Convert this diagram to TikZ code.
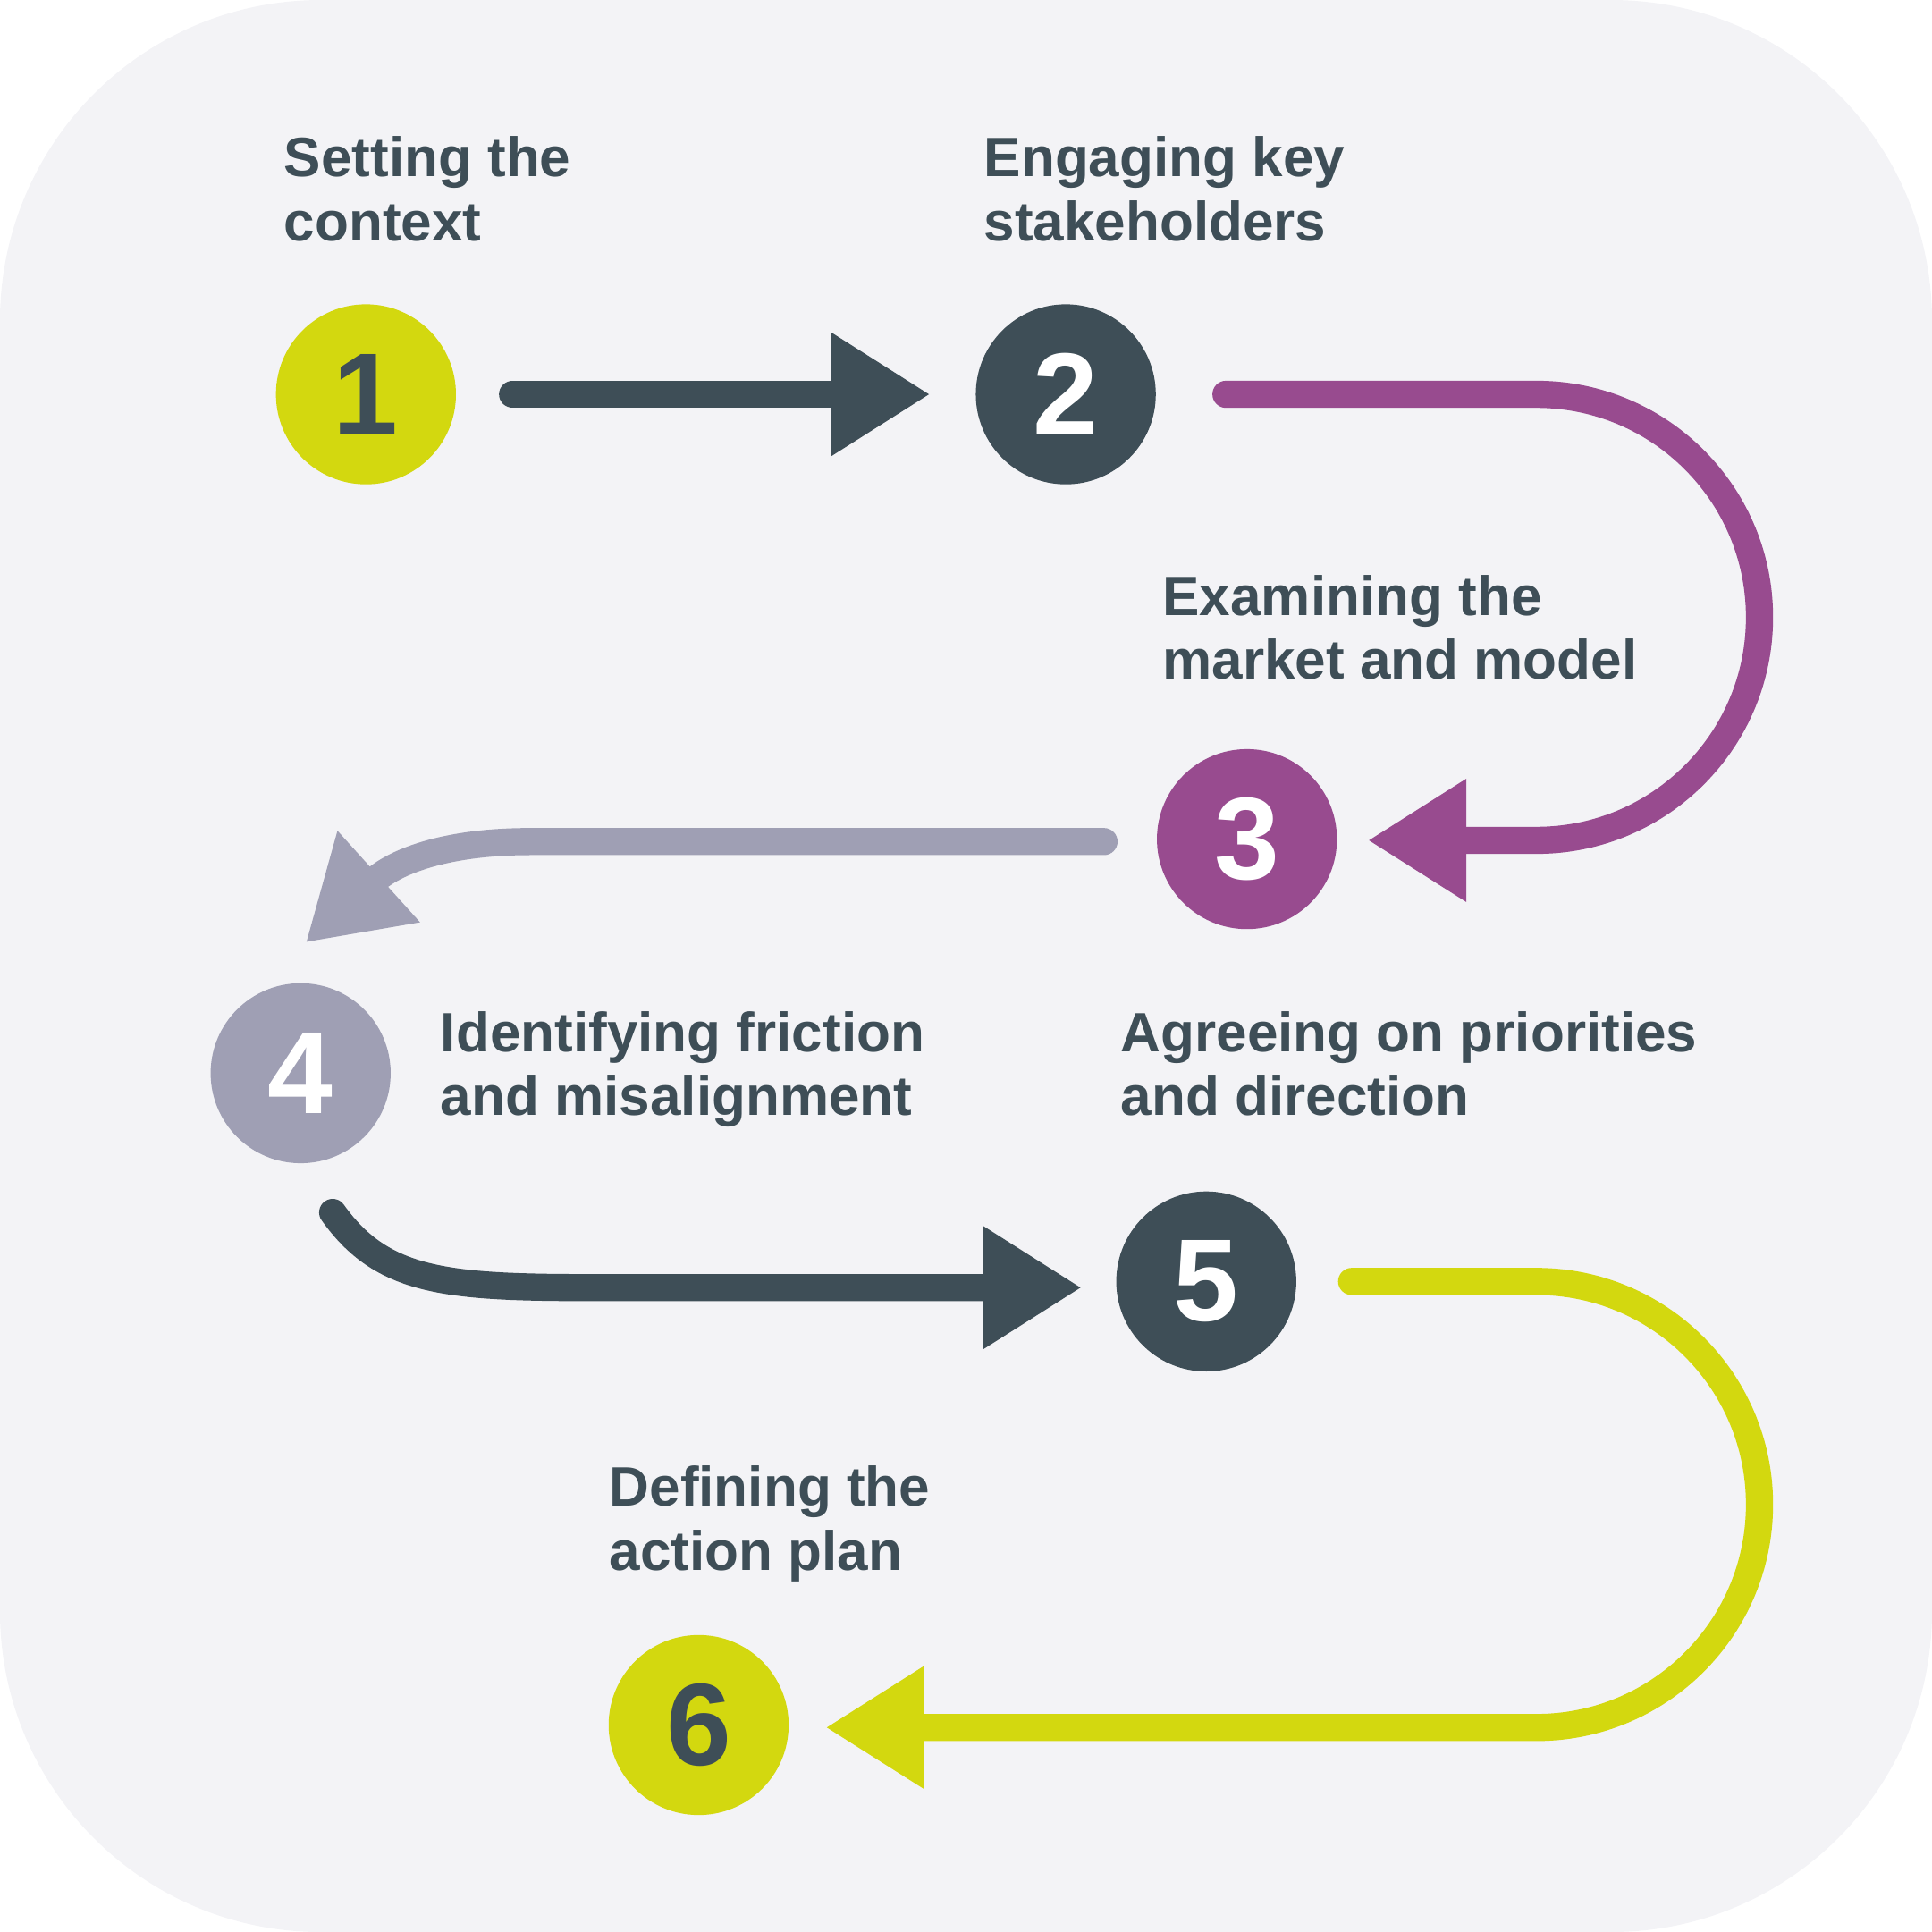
\documentclass[tikz,border=0pt]{standalone}
\usepackage{fontspec}
\setmainfont{Liberation Sans}
\usetikzlibrary{arrows.meta,positioning}
\definecolor{bgpanel}{HTML}{F3F3F6}
\definecolor{slate}{HTML}{3E4E57}
\definecolor{lime}{HTML}{D3D80F}
\definecolor{plum}{HTML}{984B8F}
\definecolor{lilac}{HTML}{9F9FB4}
\tikzset{
  stage/.style={circle, minimum size=1.46cm, inner sep=0pt, font=\fontsize{27}{27}\selectfont\bfseries},
  lbl/.style={anchor=north west, align=left, inner sep=0pt, text=slate, font=\fontsize{12.8}{14.8}\selectfont\bfseries},
  flow/.style={line width=0.22cm, line cap=round, -{Triangle[length=0.8cm,width=0.94cm]}}
}
\begin{document}
\begin{tikzpicture}[x=0.01cm,y=-0.01cm]
    % panel
    \fill[bgpanel, rounded corners=2.6cm] (0,0) rectangle (1568,1568);
    \useasboundingbox (0,0) rectangle (1568,1568);

    % stages
    \node[stage, fill=lime, text=slate] (s1) at (297,320) {1};
    \node[stage, fill=slate, text=white] (s2) at (865,320) {2};
    \node[stage, fill=plum, text=white] (s3) at (1012,681) {3};
    \node[stage, fill=lilac, text=white] (s4) at (244,871) {4};
    \node[stage, fill=slate, text=white] (s5) at (979,1040) {5};
    \node[stage, fill=lime, text=slate] (s6) at (567,1400) {6};

    % labels
    \node[lbl] (l1) at (230,110) {Setting the\\context};
    \node[lbl] (l2) at (798,110) {Engaging key\\stakeholders};
    \node[lbl] (l3) at (943,466) {Examining the\\market and model};
    \node[lbl] (l4) at (357,820) {Identifying friction\\and misalignment};
    \node[lbl] (l5) at (909,820) {Agreeing on priorities\\and direction};
    \node[lbl] (l6) at (494,1189) {Defining the\\action plan};

    % free ends of the connectors
    \coordinate (a1) at (416,320);
    \coordinate (b1) at (755,320);
    \coordinate (a2) at (995,320);
    \coordinate (b2) at (1110,682);
    \coordinate (a3) at (896,683);
    \coordinate (b3) at (248,765);
    \coordinate (a4) at (270,984);
    \coordinate (b4) at (878,1045);
    \coordinate (a5) at (1097,1040);
    \coordinate (b5) at (670,1402);

    % connectors
    \draw[flow, slate] (a1) -- (b1);
    \draw[flow, plum] (a2) -- (1247,320) arc[start angle=-90, end angle=90, radius=181] -- (b2);
    \draw[flow, lilac] (a3) -- (430,683) .. controls (360,683) and (320,700) .. (b3);
    \draw[flow, slate] (a4) .. controls (310,1040) and (360,1045) .. (480,1045) -- (b4);
    \draw[flow, lime] (a5) -- (1247,1040) arc[start angle=-90, end angle=90, radius=181] -- (b5);
\end{tikzpicture}
\end{document}
